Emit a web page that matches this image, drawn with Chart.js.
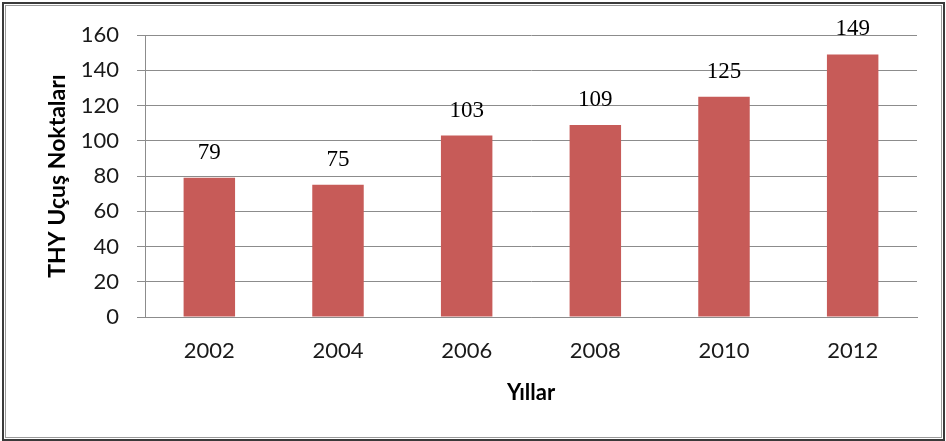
<!DOCTYPE html>
<html>
<head>
<meta charset="utf-8">
<script src="https://cdn.jsdelivr.net/npm/chart.js@4"></script>
<style>
html,body{margin:0;padding:0;background:#fff;}
#wrap{width:946px;height:441px;position:relative;}
</style>
</head>
<body>
<div id="wrap"><canvas id="c" width="946" height="441"></canvas></div>
<script>
const years = ['2002','2004','2006','2008','2010','2012'];
const destinations = [79, 75, 103, 109, 125, 149];
const yTicks = [0, 20, 40, 60, 80, 100, 120, 140, 160];
const yTitle = 'THY Uçuş Noktaları';
const xTitle = 'Yıllar';

const frame = {
  id: 'frame',
  afterDraw(chart) {
    const ctx = chart.ctx;
    ctx.save();
    ctx.strokeStyle = '#9a9a9a';
    ctx.lineWidth = 1;
    ctx.strokeRect(5.5, 5.5, 936, 432);
    ctx.strokeStyle = '#3a3a3a';
    ctx.lineWidth = 2;
    ctx.strokeRect(3, 3, 941, 437);
    ctx.restore();
  }
};

const labels = {
  id: 'valueLabels',
  afterDatasetsDraw(chart) {
    const ctx = chart.ctx;
    const meta = chart.getDatasetMeta(0);
    ctx.save();
    ctx.font = '23px "Liberation Serif", serif';
    ctx.fillStyle = '#000';
    ctx.textAlign = 'center';
    ctx.textBaseline = 'middle';
    meta.data.forEach((bar, i) => {
      ctx.fillText(String(chart.data.datasets[0].data[i]), bar.x, bar.y - 25);
    });
    ctx.restore();
  }
};

new Chart(document.getElementById('c'), {
  type: 'bar',
  data: {
    labels: years,
    datasets: [{
      data: destinations,
      backgroundColor: '#C75B58',
      borderWidth: 0,
      categoryPercentage: 1,
      barPercentage: 0.4
    }]
  },
  options: {
    responsive: false,
    animation: false,
    events: [],
    layout: { padding: { left: 40, right: 29, top: 35, bottom: 24 } },
    plugins: { legend: { display: false }, tooltip: { enabled: false } },
    scales: {
      x: {
        afterFit(s) { s.height = 100; },
        grid: { display: false, drawTicks: false },
        border: { color: '#8c8c8c', width: 1 },
        ticks: { padding: 21, color: '#1a1a1a', font: { family: 'Lato', size: 22 } },
        title: { display: true, text: xTitle, color: '#000', padding: { top: 0, bottom: 11 },
                 font: { family: 'Lato', size: 22, weight: 'bold' } }
      },
      y: {
        min: 0, max: 160,
        afterFit(s) { s.width = 105; },
        afterBuildTicks(s) { s.ticks = yTicks.map(v => ({ value: v })); },
        grid: { color: '#8c8c8c', tickLength: 8, lineWidth: 1 },
        border: { color: '#8c8c8c', width: 1 },
        ticks: { padding: 18, color: '#1a1a1a', font: { family: 'Lato', size: 22 } },
        title: { display: true, text: yTitle, color: '#000', padding: { top: 4, bottom: 0 },
                 font: { family: 'Lato', size: 23, weight: 'bold' } }
      }
    }
  },
  plugins: [labels, frame]
});
</script>
</body>
</html>
